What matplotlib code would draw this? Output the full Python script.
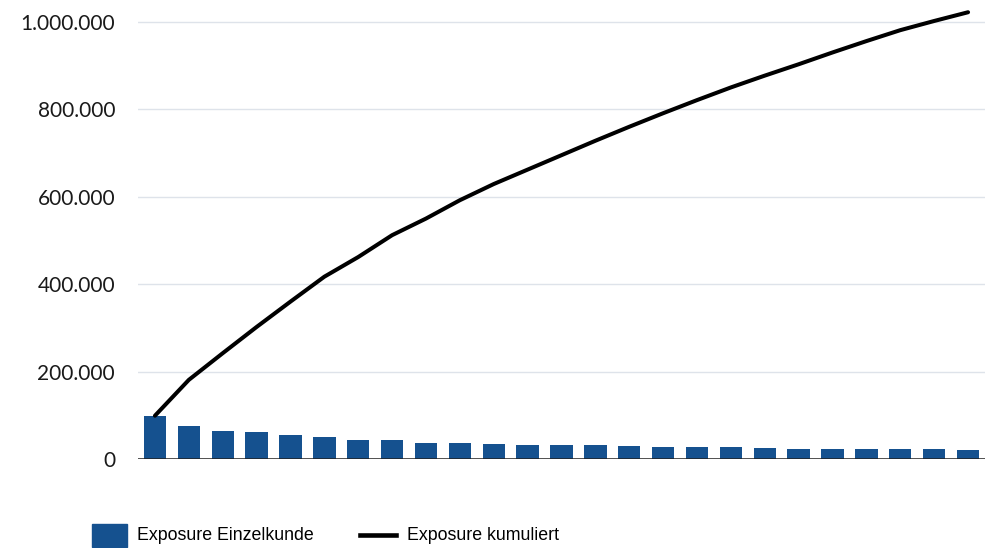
import matplotlib
matplotlib.use("Agg")
import matplotlib.pyplot as plt
from matplotlib import font_manager
from matplotlib.patches import Rectangle
from matplotlib.lines import Line2D
from matplotlib.ticker import FuncFormatter

# Exposure per single customer (sorted, largest first) and cumulative exposure
customers = list(range(1, 26))
exposure_single = [99000, 76000, 65000, 61000, 55000, 51000, 43500, 43500,
                   37500, 36000, 33500, 33000, 31500, 31000, 30500, 28500,
                   27000, 26500, 26000, 24000, 23500, 23500, 23000, 23000,
                   21500]
exposure_cumulative = [99000, 181000, 242000, 302000, 360000, 417000, 462000,
                       512000, 550000, 592000, 629000, 662000, 695000, 728000,
                       760000, 791000, 821000, 850000, 877000, 903000, 930000,
                       956000, 981000, 1002000, 1022000]
y_ticks = [0, 200000, 400000, 600000, 800000, 1000000]
legend_labels = ["Exposure Einzelkunde", "Exposure kumuliert"]

BAR_COLOR = "#15518F"
GRID_COLOR = "#DEE3EA"

available = {f.name for f in font_manager.fontManager.ttflist}
if "Liberation Sans Narrow" in available:
    legend_font, legend_size = "Liberation Sans Narrow", 14.5
else:
    legend_font, legend_size = "Liberation Sans", 12.8

W, H = 986, 548
fig = plt.figure(figsize=(W / 100, H / 100), dpi=100)
ax = fig.add_axes([138 / W, (H - 459) / H, 847 / W, 459 / H])

x = list(range(len(customers)))
ax.bar(x, exposure_single, width=0.66, color=BAR_COLOR, zorder=2)
ax.plot(x, exposure_cumulative, color="black", lw=2.9,
        solid_capstyle="round", solid_joinstyle="round", zorder=4)

ax.set_xlim(-0.5, len(customers) - 0.5)
ax.set_ylim(0, 1050000)
ax.set_yticks(y_ticks)
ax.yaxis.set_major_formatter(
    FuncFormatter(lambda v, _: f"{int(v):,}".replace(",", ".")))
ax.set_xticks([])
ax.tick_params(axis="y", length=0, pad=16.5, labelsize=15)
for lab in ax.get_yticklabels():
    lab.set_fontfamily("Lato")
    lab.set_color("#1a1a1a")

for v in y_ticks[1:]:
    ax.axhline(v, color=GRID_COLOR, lw=1.0, zorder=1)
ax.axhline(0, color="#222222", lw=1.1, zorder=3)

for s in ax.spines.values():
    s.set_visible(False)

# Legend drawn in figure pixel space
fig.patches.append(Rectangle((91.7 / W, (H - 546.7) / H), 35.6 / W, 22.7 / H,
                             transform=fig.transFigure, color=BAR_COLOR))
fig.text(137 / W, (H - 535) / H, legend_labels[0], fontfamily=legend_font,
         fontsize=legend_size, va="center", ha="left", color="black")
fig.lines.append(Line2D([360 / W, 396 / W], [(H - 535) / H, (H - 535) / H],
                        transform=fig.transFigure, color="black", lw=3.3))
fig.text(407 / W, (H - 535) / H, legend_labels[1], fontfamily=legend_font,
         fontsize=legend_size, va="center", ha="left", color="black")

fig.savefig("out.png", dpi=100, facecolor="white")
